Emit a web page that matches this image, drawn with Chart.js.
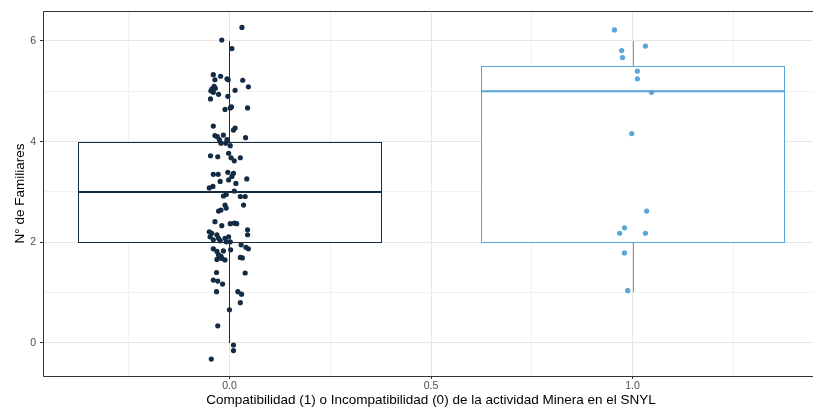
<!DOCTYPE html>
<html>
<head>
    <meta charset="utf-8">
    <title>Compatibilidad actividad minera - N° de Familiares</title>
    <script src="https://cdn.jsdelivr.net/npm/chart.js"></script>
    <style>
        html, body { margin: 0; overflow: hidden; background: #fff; }
        .box { width: 823px; height: 411px; }
    </style>
</head>
<body>
<div class="box">
    <canvas id="familiasChart" width="823" height="411"></canvas>
</div>
<script>
    // jittered points, group 0 (incompatible)
    const x0 = [0.031, -0.019, 0.006, -0.040, -0.022, -0.006, -0.003, -0.036, 0.033, 0.047,
        -0.038, -0.043, -0.046, -0.035, -0.040, 0.014, -0.027, -0.004, -0.047, 0.045,
        -0.011, 0.002, 0.005, -0.040, 0.014, 0.010, 0.040, -0.036, -0.030, -0.025,
        -0.021, -0.015, -0.006, -0.009, 0.002, -0.047, -0.029, -0.002, 0.004, 0.012,
        0.027, -0.040, -0.028, -0.004, 0.010, 0.006, 0.043, -0.002, 0.016, -0.023,
        -0.050, -0.041, -0.015, -0.008, 0.012, 0.027, 0.039, 0.035, -0.011, -0.008,
        -0.027, -0.021, -0.036, -0.019, 0.002, 0.012, 0.018, 0.045, 0.045, -0.050,
        -0.044, -0.048, -0.040, -0.031, -0.027, -0.023, -0.011, -0.002, 0.002, -0.008,
        -0.040, -0.031, -0.027, -0.021, -0.031, -0.019, -0.011, -0.015, 0.003, 0.029,
        0.041, 0.047, 0.027, 0.032, 0.039, -0.032, -0.040, -0.029, -0.017, -0.032,
        0.021, 0.030, 0.027, 0.000, -0.029, 0.010, 0.010, -0.045];
    const y0 = [6.27, 6.02, 5.85, 5.33, 5.30, 5.25, 5.23, 5.23, 5.22, 5.09,
        5.10, 5.05, 5.01, 5.06, 4.98, 5.02, 4.94, 4.90, 4.85, 4.67,
        4.64, 4.67, 4.69, 4.31, 4.27, 4.23, 4.08, 4.12, 4.10, 4.04,
        3.97, 4.13, 4.04, 3.97, 3.92, 3.72, 3.70, 3.77, 3.68, 3.62,
        3.68, 3.35, 3.35, 3.39, 3.37, 3.31, 3.26, 3.24, 3.17, 3.21,
        3.08, 3.11, 2.92, 2.95, 3.02, 2.91, 2.91, 2.74, 2.74, 2.68,
        2.62, 2.64, 2.41, 2.33, 2.37, 2.38, 2.37, 2.25, 2.15, 2.21,
        2.18, 2.11, 2.05, 2.15, 2.08, 2.03, 2.08, 2.11, 2.01, 2.01,
        1.87, 1.82, 1.75, 1.72, 1.66, 1.68, 1.65, 1.83, 1.85, 1.95,
        1.90, 1.87, 1.70, 1.69, 1.39, 1.40, 1.25, 1.23, 1.17, 1.02,
        1.02, 0.97, 0.80, 0.66, 0.34, -0.04, -0.15, -0.32];

    // jittered points, group 1 (compatible)
    const x1 = [0.955, 1.032, 0.973, 0.975, 1.012, 1.012, 1.047, 0.998, 1.035, 0.980, 0.968, 1.032, 0.980, 0.988];
    const y1 = [6.22, 5.90, 5.81, 5.67, 5.40, 5.25, 4.98, 4.16, 2.62, 2.29, 2.18, 2.18, 1.79, 1.04];

    // boxplot summaries
    const boxPos = [0, 1];
    const boxLow = [0, 1];
    const boxQ1 = [2, 2];
    const boxMed = [3, 5];
    const boxQ3 = [4, 5.5];
    const boxHigh = [6, 6];
    const boxColors = ['#132B43', '#5AA5DA'];
    const boxWidth = 0.75;

    // axes
    const xMajor = [0, 0.5, 1];
    const xMinor = [-0.25, 0.25, 0.75, 1.25];
    const yMajor = [0, 2, 4, 6];
    const yMinor = [1, 3, 5];

    const boxPlugin = {
        id: 'boxes',
        beforeDatasetsDraw(chart) {
            const ctx = chart.ctx;
            const x = chart.scales.x, y = chart.scales.y;
            boxPos.forEach((pos, i) => {
                const c = Math.round(x.getPixelForValue(pos)) + 0.5;
                const l = Math.round(x.getPixelForValue(pos - boxWidth / 2)) + 0.5;
                const r = Math.round(x.getPixelForValue(pos + boxWidth / 2)) + 0.5;
                const q1 = Math.round(y.getPixelForValue(boxQ1[i])) + 0.5;
                const q3 = Math.round(y.getPixelForValue(boxQ3[i])) + 0.5;
                ctx.save();
                ctx.strokeStyle = boxColors[i];
                ctx.lineWidth = 1;
                // whiskers
                ctx.beginPath();
                ctx.moveTo(c, y.getPixelForValue(boxLow[i]));
                ctx.lineTo(c, q1);
                ctx.moveTo(c, q3);
                ctx.lineTo(c, y.getPixelForValue(boxHigh[i]));
                ctx.stroke();
                // box
                ctx.fillStyle = '#ffffff';
                ctx.fillRect(l, q3, r - l, q1 - q3);
                ctx.strokeRect(l, q3, r - l, q1 - q3);
                // median
                const m = y.getPixelForValue(boxMed[i]);
                ctx.lineWidth = 2;
                ctx.beginPath();
                ctx.moveTo(l, m);
                ctx.lineTo(r, m);
                ctx.stroke();
                ctx.restore();
            });
        },
        afterDraw(chart) {
            // panel border
            const ctx = chart.ctx;
            const a = chart.chartArea;
            const l = Math.round(a.left) + 0.5, t = Math.round(a.top) + 0.5;
            const b = Math.round(a.bottom) + 0.5, r = Math.round(a.right) + 0.5;
            ctx.save();
            ctx.strokeStyle = '#333333';
            ctx.lineWidth = 1;
            ctx.beginPath();
            ctx.moveTo(r, t);
            ctx.lineTo(l, t);
            ctx.lineTo(l, b);
            ctx.lineTo(r, b);
            ctx.stroke();
            ctx.restore();
        }
    };

    const isMajor = (list, v) => list.some(t => Math.abs(t - v) < 1e-9);
    const gridColor = list => c => (c.tick && isMajor(list, c.tick.value)) ? '#e6e6e6' : '#f1f1f1';
    const tickColor = list => c => (c.tick && isMajor(list, c.tick.value)) ? '#333333' : 'rgba(0,0,0,0)';

    const ctx = document.getElementById('familiasChart').getContext('2d');
    const familiasChart = new Chart(ctx, {
        type: 'scatter',
        data: {
            datasets: [{
                label: '0',
                data: x0.map((v, i) => ({ x: v, y: y0[i] })),
                backgroundColor: boxColors[0],
                borderWidth: 0,
                pointRadius: 2.6
            }, {
                label: '1',
                data: x1.map((v, i) => ({ x: v, y: y1[i] })),
                backgroundColor: boxColors[1],
                borderWidth: 0,
                pointRadius: 2.6
            }]
        },
        options: {
            responsive: false,
            animation: false,
            layout: { padding: { top: 11, right: 1, bottom: 0, left: 0 } },
            plugins: {
                legend: { display: false },
                tooltip: { enabled: false }
            },
            scales: {
                x: {
                    type: 'linear',
                    min: -0.4625,
                    max: 1.4625,
                    afterBuildTicks: s => { s.ticks = xMajor.concat(xMinor).sort((a, b) => a - b).map(v => ({ value: v })); },
                    afterFit: s => { s.height = 35; },
                    border: { display: false },
                    grid: {
                        color: gridColor(xMajor),
                        tickColor: tickColor(xMajor),
                        tickLength: 3,
                        lineWidth: 1
                    },
                    ticks: {
                        padding: 1,
                        autoSkip: false,
                        maxRotation: 0,
                        color: '#4d4d4d',
                        font: { family: 'Liberation Sans', size: 10.5 },
                        callback: v => isMajor(xMajor, v) ? v.toFixed(1) : ''
                    },
                    title: {
                        display: true,
                        text: 'Compatibilidad (1) o Incompatibilidad (0) de la actividad Minera en el SNYL',
                        color: '#000000',
                        font: { family: 'Liberation Sans', size: 13.5 },
                        padding: { top: 0, bottom: 3 }
                    }
                },
                y: {
                    type: 'linear',
                    min: -0.656,
                    max: 6.596,
                    afterBuildTicks: s => { s.ticks = yMajor.concat(yMinor).sort((a, b) => a - b).map(v => ({ value: v })); },
                    afterFit: s => { s.width = 43; },
                    border: { display: false },
                    grid: {
                        color: gridColor(yMajor),
                        tickColor: tickColor(yMajor),
                        tickLength: 3,
                        lineWidth: 1
                    },
                    ticks: {
                        padding: 4,
                        autoSkip: false,
                        color: '#4d4d4d',
                        font: { family: 'Liberation Sans', size: 10.5 },
                        callback: v => isMajor(yMajor, v) ? String(v) : ''
                    },
                    title: {
                        display: true,
                        text: 'N° de Familiares',
                        color: '#000000',
                        font: { family: 'Liberation Sans', size: 13.5 },
                        padding: { top: 12, bottom: 0 }
                    }
                }
            }
        },
        plugins: [boxPlugin]
    });
</script>
</body>
</html>
